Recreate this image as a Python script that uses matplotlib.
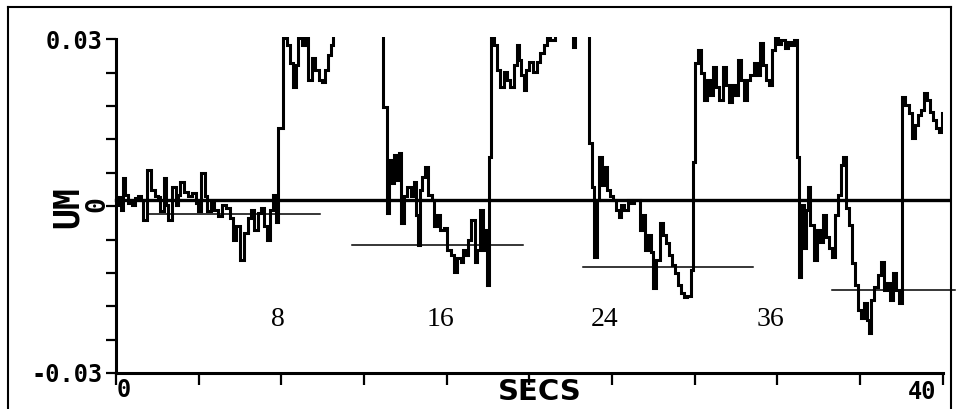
import numpy as np
import matplotlib
matplotlib.use("Agg")
import matplotlib.pyplot as plt
from matplotlib.lines import Line2D

# ---- data (time in seconds, displacement in milli-UM; 35 = off scale above) ----
trace_t = [
    0.00, 0.12, 0.24, 0.33, 0.45, 0.60, 0.75, 0.90, 1.05, 1.20, 1.30, 1.50, 1.70, 1.90,
    2.05, 2.15, 2.30, 2.40, 2.50, 2.70, 2.90, 3.00, 3.10, 3.30, 3.50, 3.70, 3.85, 3.95,
    4.10, 4.30, 4.40, 4.60, 4.75, 4.95, 5.15, 5.30, 5.50, 5.65, 5.80, 6.00, 6.20, 6.40,
    6.55, 6.70, 6.85, 7.00, 7.15, 7.30, 7.45, 7.60, 7.75, 7.85, 8.10, 8.25, 8.40, 8.55,
    8.70, 8.80, 9.00, 9.15, 9.30, 9.50, 9.65, 9.80, 9.95, 10.10, 10.25, 10.40, 10.50,
    12.90, 13.10, 13.20, 13.35, 13.45, 13.60, 13.70, 13.80, 13.95, 14.10, 14.25, 14.40,
    14.50, 14.60, 14.70, 14.80, 14.95, 15.10, 15.30, 15.40, 15.55, 15.70, 15.85, 16.00,
    16.20, 16.35, 16.50, 16.70, 16.80, 16.95, 17.05, 17.20, 17.35, 17.45, 17.60, 17.75,
    17.85, 17.95, 18.05, 18.15, 18.30, 18.45, 18.60, 18.75, 18.90, 19.05, 19.25, 19.40,
    19.50, 19.60, 19.75, 19.85, 20.00, 20.20, 20.35, 20.50, 20.70, 20.85, 21.00, 21.25,
    22.10, 22.20, 22.90, 23.05, 23.15, 23.25, 23.35, 23.50, 23.60, 23.75, 23.90, 24.05,
    24.20, 24.35, 24.45, 24.60, 24.75, 24.90, 25.05, 25.20, 25.35, 25.50, 25.60, 25.75,
    25.90, 26.00, 26.15, 26.30, 26.45, 26.60, 26.75, 26.90, 27.05, 27.20, 27.35, 27.50,
    27.65, 27.80, 27.90, 28.00, 28.15, 28.30, 28.45, 28.60, 28.75, 28.90, 29.05, 29.20,
    29.35, 29.50, 29.65, 29.80, 29.95, 30.10, 30.25, 30.40, 30.55, 30.70, 30.85, 31.00,
    31.15, 31.30, 31.45, 31.60, 31.75, 31.90, 32.05, 32.20, 32.35, 32.50, 32.65, 32.80,
    32.95, 33.05, 33.15, 33.30, 33.40, 33.50, 33.60, 33.75, 33.90, 34.05, 34.20, 34.35,
    34.50, 34.65, 34.80, 34.95, 35.10, 35.20, 35.30, 35.45, 35.60, 35.75, 35.90, 36.05,
    36.20, 36.35, 36.45, 36.55, 36.70, 36.85, 37.00, 37.15, 37.30, 37.45, 37.60, 37.75,
    37.90, 38.05, 38.20, 38.35, 38.50, 38.65, 38.80, 38.95, 39.10, 39.25, 39.40, 39.55,
    39.70, 39.80, 39.95, 40.05,
]
trace_mum = [
    0.18, 1.62, -0.72, 5.04, 1.98, 0.54, 0.18, 1.44, 1.80, 1.08, -2.52, 6.48, 2.88, 1.80,
    1.62, -0.90, 5.04, 0.18, -2.52, 3.42, 0.18, 1.98, 4.32, 2.52, 1.80, 2.34, 0.54, -0.90,
    5.94, 1.80, -0.90, 0.54, -0.72, -1.80, 0.18, -0.36, -2.16, -6.12, -3.60, -9.72, -4.86, -2.16,
    -0.72, -4.32, -1.26, -0.36, -3.60, -6.12, -0.72, 1.98, -2.88, 14.04, 30.24, 28.98, 25.74, 21.42,
    25.38, 30.24, 28.98, 30.24, 22.68, 26.64, 24.48, 22.68, 22.32, 24.48, 27.18, 28.98, 35.0,
    17.82, -1.26, 8.28, 4.14, 9.18, 4.68, 9.54, -3.06, 1.80, 3.42, 1.80, 4.32,
    -1.62, -7.02, 2.88, 5.22, 7.02, 1.98, 1.08, -3.60, -1.62, -4.32, -3.96, -7.92,
    -8.82, -11.88, -9.36, -10.08, -7.92, -8.82, -6.12, -2.52, -10.08, -7.92, -0.72, -7.92,
    -4.32, -14.22, 8.82, 30.24, 28.98, 24.48, 21.42, 24.12, 22.68, 21.42, 25.38, 28.98,
    26.28, 23.58, 20.88, 24.48, 25.92, 24.12, 25.92, 27.54, 28.98, 30.24, 29.88, 35.0,
    28.62, 35.0, 11.34, 3.42, -9.18, 1.08, 8.82, 3.78, 7.02, 2.88, 1.80, 1.08,
    -0.72, -1.98, 0.18, -0.72, 1.08, 0.54, 1.08, 1.08, -4.32, -1.62, -7.92, -5.22,
    -8.28, -14.76, -9.72, -3.06, -5.22, -6.66, -8.82, -10.62, -12.06, -14.22, -15.66, -16.38,
    -16.20, -11.52, 7.92, 25.74, 28.08, 23.94, 19.08, 22.68, 19.98, 25.02, 21.42, 19.08,
    25.02, 21.78, 18.72, 21.78, 19.98, 26.28, 22.68, 19.08, 22.68, 23.58, 25.74, 23.58,
    29.34, 25.38, 22.68, 21.78, 28.08, 30.24, 29.16, 29.88, 28.44, 29.52, 28.98, 29.88,
    8.82, -12.78, 0.18, -7.56, -0.72, 3.42, -3.42, -9.72, -4.32, -6.48, -1.62, -5.58,
    -7.56, -9.18, -1.62, 1.98, 7.38, 8.82, -0.36, -3.42, -10.26, -14.22, -18.72, -20.16,
    -17.46, -20.52, -22.86, -16.92, -14.58, -12.42, -10.08, -15.12, -13.86, -16.92, -12.06, -15.12,
    -17.46, 19.62, 18.18, 16.74, 12.24, 14.58, 16.38, 17.28, 20.34, 19.08, 16.92, 15.48,
    14.04, 13.32, 16.74, 16.74,
]

# reference (baseline) level, in milli-UM
baseline_mum = 1.08
baseline_span = [0.0, 40.25]

# thin horizontal reference lines: start, end (secs), level (milli-UM)
ref_start = [1.55, 11.40, 22.58, 34.62]
ref_end = [9.87, 19.67, 30.83, 40.60]
ref_level = [-1.44, -7.02, -10.90, -15.10]

# interval labels
interval_labels = ["8", "16", "24", "36"]
interval_x = [7.85, 15.68, 23.65, 31.65]
interval_y_mum = [-20.3, -20.3, -20.3, -20.3]

x_ticks = list(range(0, 41, 4))
y_ticks_mum = [-30, -24, -18, -12, -6, 0, 6, 12, 18, 24, 30]
y_tick_labels = ["-0.03", "", "", "", "", "", "", "", "", "", "0.03"]

# ---- figure ----
W, H = 959, 409
fig = plt.figure(figsize=(W / 100, H / 100), dpi=100)
fig.patch.set_facecolor("white")

# outer frame
lw_frame = 1.5
fig.add_artist(Line2D([8 / W, 8 / W], [-0.05, 1 - 7 / H], transform=fig.transFigure,
                      color="black", lw=lw_frame))
fig.add_artist(Line2D([8 / W, 951 / W], [1 - 7 / H, 1 - 7 / H], transform=fig.transFigure,
                      color="black", lw=lw_frame))
fig.add_artist(Line2D([951 / W, 951 / W], [-0.05, 1 - 7 / H], transform=fig.transFigure,
                      color="black", lw=lw_frame))

ymin, ymax = -0.03, 0.0305
ax_left = 116 / W
ax_bottom = (H - 373) / H
ax_width = (942.7 - 116) / W
ax_height = (373 - 39.3) * ((ymax - ymin) / 0.06) / H
ax = fig.add_axes([ax_left, ax_bottom, ax_width, ax_height])
ax.set_xlim(0, 40)
ax.set_ylim(ymin, ymax)
ax.patch.set_alpha(0)

t = np.array(trace_t)
v = np.array(trace_mum) / 1000.0
ax.step(t, v, where="post", color="black", lw=2.2, solid_joinstyle="miter")

ax.plot(baseline_span, [baseline_mum / 1000.0] * 2, color="black", lw=2.4, clip_on=False)

for s, e, lv in zip(ref_start, ref_end, ref_level):
    ax.plot([s, e], [lv / 1000.0] * 2, color="black", lw=1.1, clip_on=False)

for lab, x, y in zip(interval_labels, interval_x, interval_y_mum):
    ax.text(x, y / 1000.0, lab, ha="center", va="center", fontsize=20,
            family="Liberation Serif", color="black")

# spines / ticks
for s in ["top", "right"]:
    ax.spines[s].set_visible(False)
ax.spines["left"].set_linewidth(2.2)
ax.spines["bottom"].set_linewidth(2.2)
ax.spines["left"].set_bounds(-0.03, 0.03)

ax.set_xticks(x_ticks)
ax.set_xticklabels([])
ax.tick_params(axis="x", direction="out", length=8.5, width=1.6, color="black")
ax.set_yticks([m / 1000.0 for m in y_ticks_mum])
ax.set_yticklabels(y_tick_labels)
ax.tick_params(axis="y", direction="out", length=7.5, width=1.6, color="black", pad=2)
for lab in ax.get_yticklabels():
    lab.set_fontfamily("DejaVu Sans Mono")
    lab.set_fontweight("bold")
    lab.set_fontsize(17)

mono = dict(family="DejaVu Sans Mono", fontweight="bold", color="black")

# x labels
ax.annotate("0", xy=(0, 0), xycoords=("data", "axes fraction"), xytext=(8, -17),
            textcoords="offset pixels", ha="center", va="center", fontsize=17, **mono)
ax.annotate("40", xy=(40, 0), xycoords=("data", "axes fraction"), xytext=(-21, -19),
            textcoords="offset pixels", ha="center", va="center", fontsize=17, **mono)
ax.annotate("SECS", xy=(20.5, 0), xycoords=("data", "axes fraction"), xytext=(0, -19),
            textcoords="offset pixels", ha="center", va="center", fontsize=21,
            family="DejaVu Sans", fontweight="bold", color="black")

# y labels
ax.annotate("0", xy=(0, 0.0003), xycoords=("axes fraction", "data"), xytext=(-19, 0),
            textcoords="offset pixels", ha="center", va="center", fontsize=19,
            rotation=90, **mono)
ax.annotate("UM", xy=(0, -0.0001), xycoords=("axes fraction", "data"), xytext=(-48, 0),
            textcoords="offset pixels", ha="center", va="center", fontsize=25,
            rotation=90, **mono)

fig.savefig("out.png", dpi=100, facecolor="white")
